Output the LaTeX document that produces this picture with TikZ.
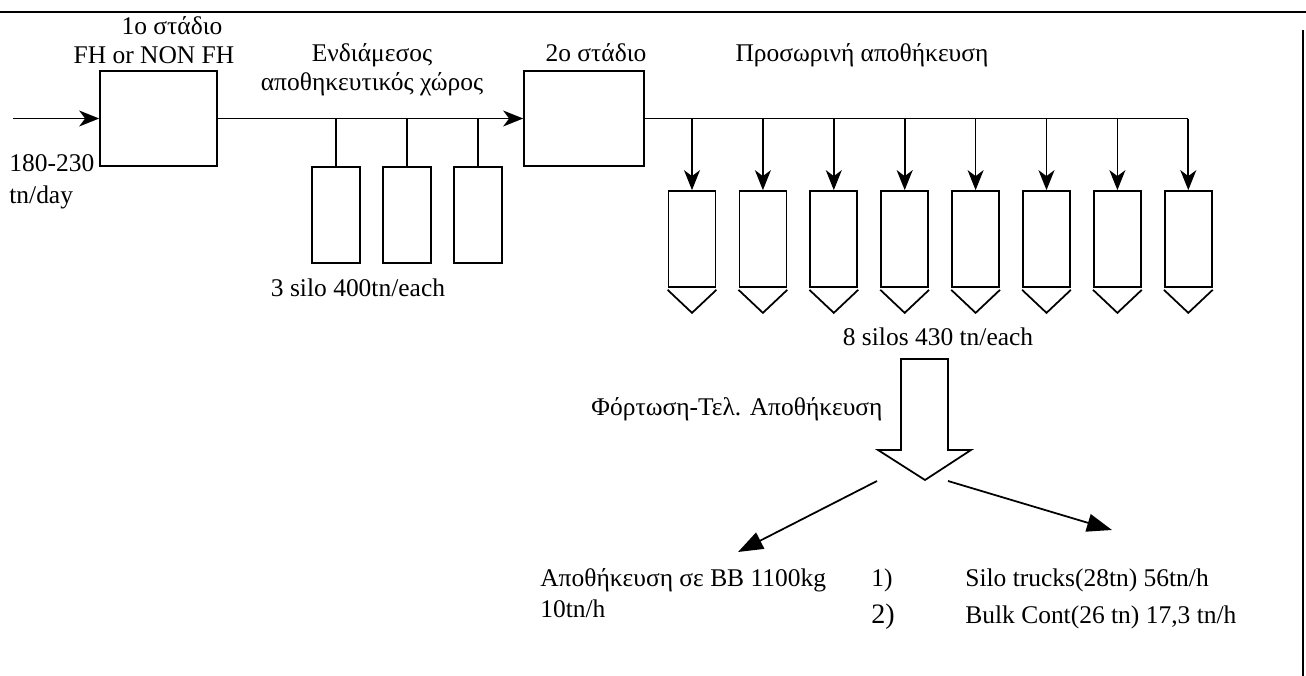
\documentclass[tikz,border=0pt]{standalone}
\usepackage{fontspec}
\setmainfont{Liberation Serif}
\usetikzlibrary{arrows.meta,positioning}

\begin{document}
\begin{tikzpicture}[
  x=0.02cm, y=-0.02cm,
  every node/.style={font=\fontsize{14.5}{17}\selectfont, inner sep=0pt},
  stage/.style={rectangle, draw, line width=1pt, minimum width=2.34cm,
                minimum height=1.9cm},
  bin/.style={rectangle, draw, line width=1pt, minimum width=0.95cm,
              minimum height=1.92cm},
  silo/.style={rectangle, draw, line width=1pt, minimum width=0.94cm,
               minimum height=1.92cm},
  stream/.style={-{Stealth[length=0.4cm, width=0.32cm, inset=0.12cm]}, line width=1pt},
  pipe/.style={line width=1pt},
  outlet/.style={-{Triangle[length=0.5cm, width=0.36cm]}, line width=1pt},
  txt/.style={anchor=base west},
  ctxt/.style={anchor=base},
]
\useasboundingbox (0,0) rectangle (1306,676);

% Frame
\draw[pipe] (0,12) -- (1306,12);
\draw[pipe] (1303,30) -- (1303,676);

% Row 1: stage 1, buffer bins, stage 2
\node[stage] (stage1) at (158.5,118.5) {};
\node[ctxt] (st1) at (172,34) {1o στάδιο};
\node[ctxt] (fh) at (154,63) {FH or NON FH};
\node[stage, minimum width=2.4cm] (stage2) at (584,118.5) {};
\node[ctxt] (st2) at (596,61) {2o στάδιο};

% Feed
\coordinate (feed) at (13,118.5);
\node[txt] (rate) at (9,171) {180-230};
\node[txt] (rateu) at (9,203) {tn/day};

% Buffer storage
\node[ctxt] (buf1) at (372,61) {Ενδιάμεσος};
\node[ctxt] (buf2) at (372,90) {αποθηκευτικός χώρος};
\foreach \i/\x in {1/336,2/407,3/478} {
  \node[bin] (bin\i) at (\x,215) {};
  \draw[pipe] (bin\i.north) -- (bin\i.north |- stage1.east);
}
\node[ctxt] (binlbl) at (358,296) {3 silo 400tn/each};

% Temporary storage silos
\node[ctxt] (tmp) at (862,61) {Προσωρινή αποθήκευση};
\foreach \i in {1,...,8} {
  \pgfmathsetmacro\sx{692+(\i-1)*70.9}
  \node[silo] (silo\i) at (\sx,239) {};
  \draw[stream] (silo\i.north |- stage2.east) -- (silo\i.north);
  \draw[pipe] ([yshift=-0.04cm]silo\i.south west) -- ([yshift=-0.5cm]silo\i.south)
        -- ([yshift=-0.04cm]silo\i.south east);
}
\node[ctxt] (silolbl) at (938,345) {8 silos 430 tn/each};

% Process streams
\draw[stream] (feed) -- (stage1.west);
\draw[stream] (stage1.east) -- (stage2.west);
\draw[pipe] (stage2.east) -- (silo8.north |- stage2.east);

% Loading - final storage
\node[ctxt] (load) at (737,415) {Φόρτωση-Τελ. Αποθήκευση};
\draw[pipe] (901,359) -- (901,450) -- (878,450) -- (925,480) -- (971,450)
      -- (948,450) -- (948,359) -- cycle;
\coordinate (splitL) at (877,481);
\coordinate (splitR) at (948,481);
\coordinate (toBag) at (738,552);
\coordinate (toBulk) at (1112,530);
\draw[outlet] (splitL) -- (toBag);
\draw[outlet] (splitR) -- (toBulk);

% Outlets
\node[txt] (bag) at (540,586) {Αποθήκευση σε BB 1100kg};
\node[txt] (bagrate) at (540,617) {10tn/h};
\node[txt] (n1) at (871,586) {1)};
\node[txt, font=\fontsize{16}{18}\selectfont] (n2) at (871,623) {2)};
\node[txt] (truck) at (965,586) {Silo trucks(28tn) 56tn/h};
\node[txt] (bulk) at (965,623) {Bulk Cont(26 tn) 17,3 tn/h};
\end{tikzpicture}
\end{document}
